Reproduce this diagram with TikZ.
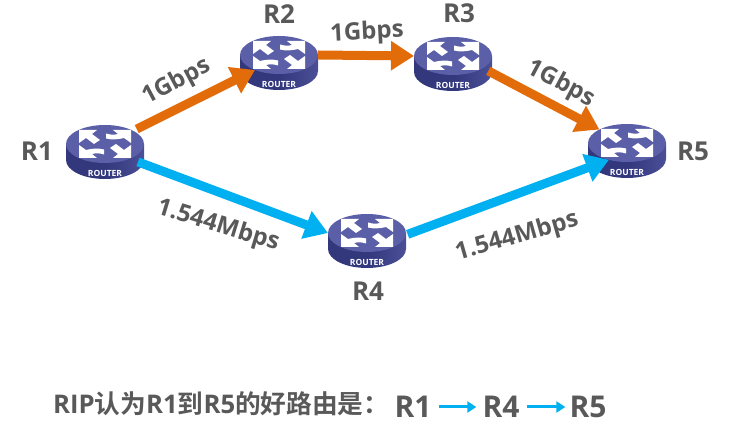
\documentclass[tikz,border=0pt]{standalone}
\usepackage{fontspec}
\setmainfont{Open Sans}
\newfontfamily\cjkfont{Noto Sans CJK SC}[BoldFont={Noto Sans CJK SC Bold}]
\usetikzlibrary{arrows.meta,shapes.geometric}
\definecolor{linkorange}{HTML}{E36C0A}
\definecolor{linkblue}{HTML}{00B0F0}
\definecolor{labelgrey}{HTML}{595959}
\definecolor{facetop}{HTML}{5A5FA8}
\definecolor{walldark}{HTML}{33387C}
\definecolor{walllight}{HTML}{4A4F97}
\tikzset{
  x=1pt,y=1pt,
  hub/.style={ellipse,minimum width=78pt,minimum height=38pt,inner sep=0pt,outer sep=0pt},
  rname/.style={font=\bfseries\fontsize{26}{26}\selectfont,text=labelgrey,inner sep=0pt},
  bigname/.style={font=\bfseries\fontsize{30}{30}\selectfont,text=labelgrey,inner sep=0pt},
  speed/.style={font=\bfseries\fontsize{24}{24}\selectfont,text=labelgrey,inner sep=0pt},
  fast/.style={line width=9pt,draw=linkorange,-{Triangle[length=23pt,width=28pt]}},
  slow/.style={line width=9pt,draw=linkblue,-{Triangle[length=23pt,width=28pt]}},
  mini/.style={line width=3pt,draw=linkblue,-{Triangle[length=9pt,width=11pt]}},
  pics/routerbody/.style={code={
    % cylinder wall and top face
    \path[left color=walldark,right color=walllight,middle color=walldark]
      (-39,0) -- (-39,-16) arc[start angle=180,end angle=360,x radius=39,y radius=19] -- (39,0) -- cycle;
    \fill[facetop] (0,0) ellipse[x radius=39,y radius=19];
    \node[text=white,inner sep=0pt,font=\bfseries\fontsize{8.5}{8.5}\selectfont] at (0,-29) {ROUTER};
    \begin{scope}[white]
      % straight arrows, upper left and lower right
      \foreach \r in {0,180}{
        \begin{scope}[rotate=\r]
          \fill (-26,14) -- (-8,14) -- (-13,10) -- (-5,4) -- (-11,0) -- (-19,6) -- (-26,1) -- cycle;
        \end{scope}
      }
      % swept arrows, upper right and lower left
      \foreach \r in {0,180}{
        \begin{scope}[rotate=\r]
          \fill (26,14) -- (8,14) -- (13,10) .. controls (9,9) and (6,9) .. (1,10.5)
            -- (1,5.5) .. controls (7,4) and (13,4.5) .. (19,6) -- (26,1) -- cycle;
        \end{scope}
      }
    \end{scope}
  }},
}
\begin{document}
\begin{tikzpicture}
  \useasboundingbox (0,0) rectangle (730,433);
  % routers
  \node[hub] (r1) at (105,289) {};
  \node[hub] (r2) at (279,378) {};
  \node[hub] (r3) at (453,377) {};
  \node[hub] (r4) at (367,200) {};
  \node[hub] (r5) at (627,290) {};
  \foreach \n in {r1,r2,r3,r4,r5}{\pic at (\n) {routerbody};}
  % links
  \draw[fast,shorten <=4pt] (r1.25) -- (r2.212);
  \draw[fast] (r2.0) -- (r3.180);
  \draw[fast,shorten <=6pt] (r3.-22) -- (r5.154);
  \draw[slow,shorten <=9pt] (r1.-31) -- (r4.180);
  \draw[slow,shorten <=2pt] (r4.-3) -- (r5.223);
  % router names
  \node[rname] (n1) at (37,282) {R1};
  \node[rname] (n2) at (279,419) {R2};
  \node[rname] (n3) at (459,420) {R3};
  \node[rname] (n4) at (368,142) {R4};
  \node[rname] (n5) at (693,282) {R5};
  % link speeds
  \node[speed,rotate=28] (s1) at (177,351) {1Gbps};
  \node[speed,rotate=3] (s2) at (367,400) {1Gbps};
  \node[speed,rotate=-28] (s3) at (561,349) {1Gbps};
  \node[speed,rotate=-17] (s4) at (218,207) {1.544Mbps};
  \node[speed,rotate=16] (s5) at (517,196) {1.544Mbps};
  % summary line
  \node[anchor=west,inner sep=0pt,text=labelgrey,font=\bfseries\fontsize{25.7}{26}\selectfont] (txt) at (53,29)
    {RIP{\cjkfont 认为}R1{\cjkfont 到}R5{\cjkfont 的好路由是：}};
  \node[bigname] (p1) at (413,26) {R1};
  \node[bigname] (p2) at (501,26) {R4};
  \node[bigname] (p3) at (588,26) {R5};
  \draw[mini] ([xshift=7pt]p1.east) -- ([xshift=-6pt]p2.west);
  \draw[mini] ([xshift=7pt]p2.east) -- ([xshift=-4pt]p3.west);
\end{tikzpicture}
\end{document}
